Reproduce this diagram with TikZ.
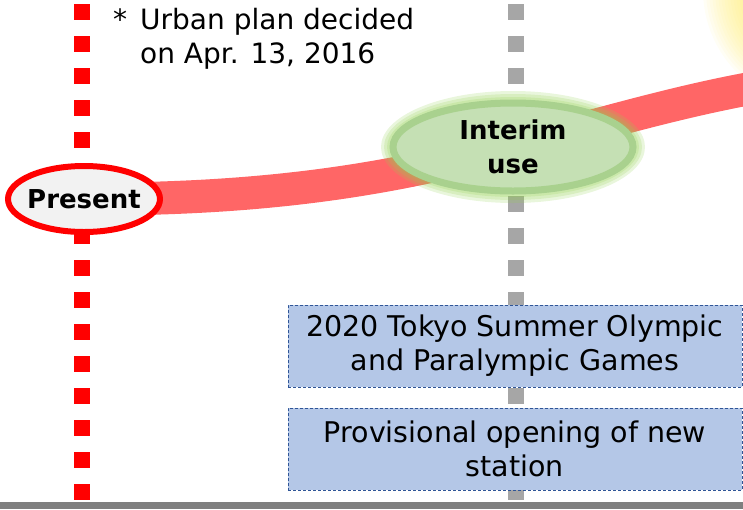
\documentclass[tikz,border=0pt]{standalone}
\usepackage{fontspec}
\setmainfont{DejaVu Sans}
\usepackage{tikz}
\usetikzlibrary{shapes.geometric,backgrounds}
\definecolor{nowred}{HTML}{FF0000}
\definecolor{route}{HTML}{FF6666}
\definecolor{nowfill}{HTML}{F2F2F2}
\definecolor{interimfill}{HTML}{C5E0B4}
\definecolor{interimline}{HTML}{A9D18E}
\definecolor{glow}{HTML}{92D050}
\definecolor{milestone}{HTML}{A6A6A6}
\definecolor{eventfill}{HTML}{B4C7E7}
\definecolor{eventline}{HTML}{2F5597}
\definecolor{ground}{HTML}{7F7F7F}
\definecolor{sunglow}{HTML}{FFE95C}

\begin{document}
\begin{tikzpicture}[x=1pt,y=-1pt,
  phase/.style={ellipse, inner sep=-6pt, align=center, font=\fontsize{26}{34}\selectfont\bfseries},
  event/.style={draw=eventline, dash pattern=on 3pt off 2pt, line width=1pt, fill=eventfill,
    minimum width=454pt, minimum height=82pt, inner sep=0pt, align=center, font=\fontsize{28.5}{34}\selectfont}]
  \useasboundingbox (0,0) rectangle (743,509);
  \clip (0,0) rectangle (743,509);

  % phases
  \node[phase, draw=nowred, line width=6pt, fill=nowfill, minimum width=152pt, minimum height=66pt] (present) at (84,199) {Present};
  \node[phase, draw=interimline, line width=7pt, fill=interimfill, minimum width=240pt, minimum height=88pt] (interim) at (513,147) {Interim\\use};

  % events
  \node[event] (games) at (515,346) {2020 Tokyo Summer Olympic\\and Paralympic Games};
  \node[event] (station) at (515,449) {Provisional opening of new\\station};

  % note
  \node[anchor=base west, align=left, inner sep=0pt, font=\fontsize{28}{34}\selectfont] (note) at (113,63)
    {\makebox[27pt][l]{*}Urban plan decided\\\hspace*{27pt}on Apr. 13, 2016};

  \begin{scope}[on background layer]
    % sun glow
    \coordinate (sun) at (820,-10);
    \foreach \r in {117,114,...,60}
      \fill[sunglow, opacity=0.06] (sun) circle (\r);

    % time markers
    \coordinate (nowtop) at (82,4);
    \coordinate (nowend) at (82,509);
    \coordinate (olytop) at (516,4);
    \coordinate (olyend) at (516,509);
    \draw[nowred, line width=16pt, dash pattern=on 16pt off 16pt] (nowtop) -- (nowend);
    \draw[milestone, line width=16pt, dash pattern=on 16pt off 16pt] (olytop) -- (olyend);

    % route
    \coordinate (future) at (770,85);
    \draw[route, line width=33pt] (present.center) .. controls (300,200) and (420,170) .. (interim.center)
      .. controls (600,125) and (680,100) .. (future);

    % glow round interim use
    \foreach \d in {12,9,6,3}
      \fill[glow, opacity=0.2] (interim.center) ellipse ({120+\d} and {44+\d});
  \end{scope}

  % ground
  \fill[ground] (0,502) rectangle (743,509);
\end{tikzpicture}
\end{document}
